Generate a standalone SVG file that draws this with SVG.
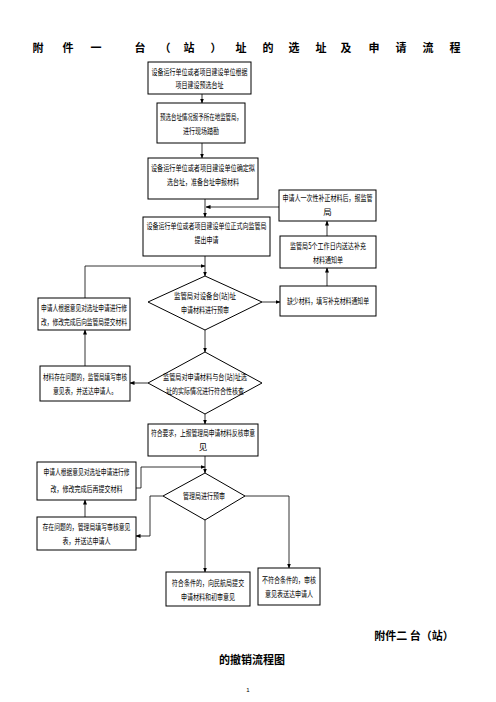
<svg xmlns="http://www.w3.org/2000/svg" width="496" height="702" viewBox="0 0 496 702">
<style>
.b{fill:#fff;stroke:#000;stroke-width:1}
.t{font-family:"Noto Sans CJK SC","Liberation Serif",serif;font-size:8.5px;fill:#000;text-anchor:middle}
.h{font-family:"Noto Sans CJK SC","Liberation Sans",sans-serif;font-size:11px;font-weight:bold;fill:#000;text-anchor:middle}
.c{fill:none;stroke:#000;stroke-width:0.8}
</style>
<defs>
<marker id="a" viewBox="0 0 10 10" refX="9" refY="5" markerWidth="5" markerHeight="5" orient="auto" markerUnits="userSpaceOnUse"><path d="M0,1L10,5L0,9z" fill="#000"/></marker>
</defs>
<rect width="496" height="702" fill="#fff"/>
<g id="title" class="h">
<text x="38" y="52">附</text><text x="68" y="52">件</text><text x="96" y="52">一</text>
<text x="140" y="52">台</text><text x="165" y="52">（</text><text x="189" y="52">站</text><text x="216" y="52">）</text>
<text x="241" y="52">址</text><text x="268" y="52">的</text><text x="294" y="52">选</text><text x="321" y="52">址</text>
<text x="346" y="52">及</text><text x="374" y="52">申</text><text x="401" y="52">请</text><text x="428" y="52">流</text><text x="455" y="52">程</text>
</g>
<g id="connectors">
<path class="c" d="M202,94V103" marker-end="url(#a)"/>
<path class="c" d="M202,143V158" marker-end="url(#a)"/>
<path class="c" d="M205,199V217" marker-end="url(#a)"/>
<path class="c" d="M279,207H206" marker-end="url(#a)" stroke="#555"/>
<path class="c" d="M205,256V276" marker-end="url(#a)"/>
<path class="c" d="M85,298V266H205" marker-end="url(#a)"/>
<path class="c" d="M262,302H280" marker-end="url(#a)"/>
<path class="c" d="M327,286V268" marker-end="url(#a)"/>
<path class="c" d="M327,236V221" marker-end="url(#a)"/>
<path class="c" d="M205,330V352" marker-end="url(#a)"/>
<path class="c" d="M148,383H130" marker-end="url(#a)"/>
<path class="c" d="M85,366V330" marker-end="url(#a)"/>
<path class="c" d="M205,414V424" marker-end="url(#a)"/>
<path class="c" d="M205,456V473" marker-end="url(#a)"/>
<path class="c" d="M136,488H141V467H205" marker-end="url(#a)"/>
<path class="c" d="M163,496H150V536H136" marker-end="url(#a)"/>
<path class="c" d="M85,517V500" marker-end="url(#a)"/>
<path class="c" d="M205,520V572" marker-end="url(#a)" stroke="#555"/>
<path class="c" d="M245,496H289V568" marker-end="url(#a)"/>
</g>
<g id="n1"><rect class="b" x="148" y="62" width="103" height="32"/>
<text class="t" x="199.5" y="75" textLength="96" lengthAdjust="spacingAndGlyphs">设备运行单位或者项目建设单位根据</text>
<text class="t" x="199.5" y="88" textLength="48" lengthAdjust="spacingAndGlyphs">项目建设预选台址</text></g>
<g id="n2"><rect class="b" x="157" y="103" width="88" height="40"/>
<text class="t" x="201" y="120" textLength="82" lengthAdjust="spacingAndGlyphs">预选台址情况报予所在地监管局，</text>
<text class="t" x="201" y="134" textLength="36" lengthAdjust="spacingAndGlyphs">进行现场踏勘</text></g>
<g id="n3"><rect class="b" x="148" y="158" width="110" height="41"/>
<text class="t" x="203" y="171" textLength="104" lengthAdjust="spacingAndGlyphs">设备运行单位或者项目建设单位确定拟</text>
<text class="t" x="203" y="185" textLength="72" lengthAdjust="spacingAndGlyphs">选台址，准备台址申报材料</text></g>
<g id="n4"><rect class="b" x="143" y="217" width="127" height="39"/>
<text class="t" x="206.5" y="229" textLength="120" lengthAdjust="spacingAndGlyphs">设备运行单位或者项目建设单位正式向监管局</text>
<text class="t" x="206.5" y="243" textLength="24" lengthAdjust="spacingAndGlyphs">提出申请</text></g>
<g id="nA"><rect class="b" x="279" y="190" width="97" height="31"/>
<text class="t" x="327.5" y="201" textLength="90" lengthAdjust="spacingAndGlyphs">申请人一次性补正材料后，报监管</text>
<text class="t" x="327.5" y="215">局</text></g>
<g id="nB"><rect class="b" x="280" y="236" width="96" height="32"/>
<text class="t" x="328" y="249" textLength="76" lengthAdjust="spacingAndGlyphs">监管局5个工作日内送达补充</text>
<text class="t" x="328" y="263" textLength="30" lengthAdjust="spacingAndGlyphs">材料通知单</text></g>
<g id="nC"><rect class="b" x="280" y="286" width="96" height="30"/>
<text class="t" x="328" y="304" textLength="82" lengthAdjust="spacingAndGlyphs">缺少材料，填写补充材料通知单</text></g>
<g id="d1"><path class="b" d="M205,276L262,302L205,330L148,302Z"/>
<text class="t" x="205" y="299" textLength="62" lengthAdjust="spacingAndGlyphs">监管局对设备台(站)址</text>
<text class="t" x="205" y="313" textLength="48" lengthAdjust="spacingAndGlyphs">申请材料进行预审</text></g>
<g id="nD"><rect class="b" x="38" y="298" width="92" height="32"/>
<text class="t" x="84" y="311" textLength="86" lengthAdjust="spacingAndGlyphs">申请人根据意见对选址申请进行修</text>
<text class="t" x="84" y="325" textLength="86" lengthAdjust="spacingAndGlyphs">改，修改完成后向监管局提交材料</text></g>
<g id="d2"><path class="b" d="M205,352L262,383L205,414L148,383Z"/>
<text class="t" x="205" y="380" textLength="84" lengthAdjust="spacingAndGlyphs">监管局对申请材料与台(站)址选</text>
<text class="t" x="205" y="394" textLength="78" lengthAdjust="spacingAndGlyphs">址的实际情况进行符合性核查</text></g>
<g id="nE"><rect class="b" x="40" y="366" width="90" height="35"/>
<text class="t" x="85" y="380" textLength="84" lengthAdjust="spacingAndGlyphs">材料存在问题的，监管局填写审核</text>
<text class="t" x="85" y="394" textLength="64" lengthAdjust="spacingAndGlyphs">意见表，并送达申请人。</text></g>
<g id="nF"><rect class="b" x="148" y="424" width="110" height="32"/>
<text class="t" x="203" y="436" textLength="104" lengthAdjust="spacingAndGlyphs">符合要求，上报管理局申请材料反核审意</text>
<text class="t" x="203" y="450">见</text></g>
<g id="d3"><path class="b" d="M205,473L245,496L205,520L163,496Z"/>
<text class="t" x="204" y="499" textLength="42" lengthAdjust="spacingAndGlyphs">管理局进行预审</text></g>
<g id="nG"><rect class="b" x="37" y="462" width="99" height="38"/>
<text class="t" x="86.5" y="475" textLength="86" lengthAdjust="spacingAndGlyphs">申请人根据意见对选址申请进行修</text>
<text class="t" x="86.5" y="492" textLength="72" lengthAdjust="spacingAndGlyphs">改，修改完成后再提交材料</text></g>
<g id="nH"><rect class="b" x="37" y="517" width="99" height="33"/>
<text class="t" x="86.5" y="530" textLength="88" lengthAdjust="spacingAndGlyphs">存在问题的，管理局填写审核意见</text>
<text class="t" x="86.5" y="544" textLength="48" lengthAdjust="spacingAndGlyphs">表，并送达申请人</text></g>
<g id="nI"><rect class="b" x="166" y="572" width="84" height="34"/>
<text class="t" transform="translate(208,586) scale(0.71,1)">符合条件的，向民航局提交</text>
<text class="t" transform="translate(208,600) scale(0.71,1)">申请材料和初审意见</text></g>
<g id="nJ"><rect class="b" x="258" y="568" width="62" height="37"/>
<text class="t" transform="translate(289,583) scale(0.71,1)">不符合条件的，审核</text>
<text class="t" transform="translate(289,597) scale(0.71,1)">意见表送达申请人</text></g>
<text class="h" x="414" y="640">附件二 台（站）</text>
<text class="h" x="252" y="664">的撤销流程图</text>
<text x="248" y="692" style="font-family:'Liberation Sans',sans-serif;font-size:6px;text-anchor:middle">1</text>
</svg>
